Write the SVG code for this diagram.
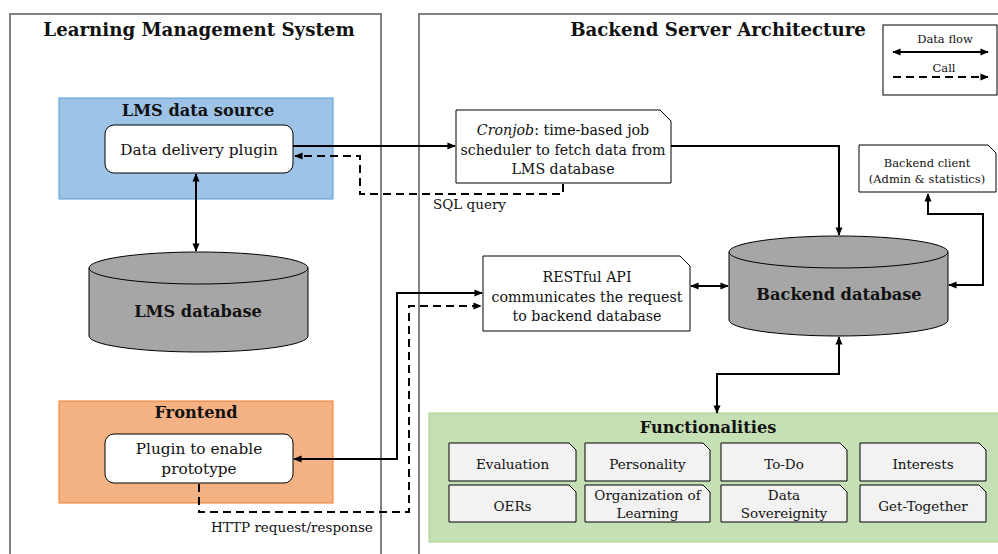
<svg xmlns="http://www.w3.org/2000/svg" width="998" height="554" viewBox="0 0 998 554">
  <style>
    text { font-family: "DejaVu Serif", "Liberation Serif", serif; fill: #111; }
    .title { font-size: 18.2px; font-weight: bold; text-anchor: middle; }
    .head { font-size: 16.2px; font-weight: bold; text-anchor: middle; }
    .plug { font-size: 15.3px; text-anchor: middle; }
    .note { font-size: 14.2px; text-anchor: middle; }
    .fn { font-size: 13.5px; text-anchor: middle; }
    .small { font-size: 11.5px; text-anchor: middle; }
    .lbl { font-size: 13.5px; }
    .panel { fill: #fff; stroke: #808080; stroke-width: 2; }
    .card { fill: #fff; stroke: #000; stroke-width: 1; }
    .fbox { fill: #f2f2f2; stroke: #000; stroke-width: 1; }
    .db { fill: #a6a6a6; stroke: #000; stroke-width: 1; }
    .flow { fill: none; stroke: #000; stroke-width: 2; }
    .call { fill: none; stroke: #000; stroke-width: 2; stroke-dasharray: 8 5; }
  </style>
  <defs>
    <marker id="head" viewBox="0 0 10 10" refX="9" refY="5" markerWidth="4.2" markerHeight="4.2" orient="auto-start-reverse" markerUnits="strokeWidth">
      <path d="M0,0.8 L10,5 L0,9.2 z" fill="#000"/>
    </marker>
  </defs>

  <!-- system panels -->
  <g id="lms-panel">
    <rect class="panel" x="10" y="14" width="371" height="570"/>
    <text class="title" x="199" y="36">Learning Management System</text>
  </g>
  <g id="backend-panel">
    <rect class="panel" x="419" y="14" width="600" height="570"/>
    <text class="title" x="718" y="36">Backend Server Architecture</text>
  </g>

  <!-- legend -->
  <g id="legend">
    <rect x="883" y="25" width="114" height="70" fill="#fff" stroke="#000" stroke-width="1"/>
    <text class="small" x="945" y="43">Data flow</text>
    <line class="flow" x1="893" y1="52" x2="988" y2="52" marker-start="url(#head)" marker-end="url(#head)"/>
    <text class="small" x="944" y="72">Call</text>
    <line class="call" x1="893" y1="77" x2="988" y2="77" marker-end="url(#head)"/>
  </g>

  <g id="lms-data-source">
    <rect x="59" y="98" width="274" height="101" fill="#9dc3e6" stroke="#5b9bd5" stroke-width="1"/>
    <text class="head" x="198" y="116">LMS data source</text>
  </g>
  <g id="data-delivery-plugin">
    <rect class="card" x="105" y="125" width="188" height="48" rx="9"/>
    <text class="plug" x="199" y="155">Data delivery plugin</text>
  </g>

  <g id="lms-database">
    <path class="db" d="M89,268 A109.5,16 0 0 1 308,268 L308,336 A109.5,16 0 0 1 89,336 Z"/>
    <path fill="none" stroke="#000" stroke-width="1" d="M89,268 A109.5,16 0 0 0 308,268"/>
    <text class="head" x="198" y="317">LMS database</text>
  </g>

  <g id="frontend">
    <rect x="59" y="401" width="274" height="102" fill="#f4b183" stroke="#ed7d31" stroke-width="1"/>
    <text class="head" x="196" y="418">Frontend</text>
  </g>
  <g id="frontend-plugin">
    <rect class="card" x="105" y="434" width="188" height="49" rx="9"/>
    <text class="plug" x="199" y="454">Plugin to enable</text>
    <text class="plug" x="199" y="474">prototype</text>
  </g>

  <g id="cronjob">
    <path class="card" d="M456,110 H660 L671,121 V183 H456 Z"/>
    <text class="note" x="563" y="135"><tspan font-style="italic">Cronjob</tspan>: time-based job</text>
    <text class="note" x="563" y="155">scheduler to fetch data from</text>
    <text class="note" x="563" y="174">LMS database</text>
  </g>

  <g id="backend-client">
    <path class="card" d="M859,145 H988 L996,153 V192 H859 Z"/>
    <text class="small" x="927" y="167">Backend client</text>
    <text class="small" x="927" y="183">(Admin &amp; statistics)</text>
  </g>

  <g id="restful-api">
    <path class="card" d="M483,256 H680 L690,266 V331 H483 Z"/>
    <text class="note" x="587" y="282">RESTful API</text>
    <text class="note" x="587" y="302">communicates the request</text>
    <text class="note" x="587" y="321">to backend database</text>
  </g>

  <g id="backend-database">
    <path class="db" d="M729,252 A109.5,16 0 0 1 948,252 L948,320 A109.5,16 0 0 1 729,320 Z"/>
    <path fill="none" stroke="#000" stroke-width="1" d="M729,252 A109.5,16 0 0 0 948,252"/>
    <text class="head" x="839" y="300">Backend database</text>
  </g>

  <g id="functionalities">
    <rect x="429" y="413" width="580" height="129" fill="#c5e0b4" stroke="#a9d18e" stroke-width="1"/>
    <text class="head" x="708" y="433">Functionalities</text>
  </g>
  <g id="fn-evaluation">
    <path class="fbox" d="M449,443 H569 L576,450 V481 H449 Z"/>
    <text class="fn" x="512.5" y="469">Evaluation</text>
  </g>
  <g id="fn-personality">
    <path class="fbox" d="M585,443 H703 L710,450 V481 H585 Z"/>
    <text class="fn" x="647.5" y="469">Personality</text>
  </g>
  <g id="fn-todo">
    <path class="fbox" d="M721,443 H840 L847,450 V481 H721 Z"/>
    <text class="fn" x="784" y="469">To-Do</text>
  </g>
  <g id="fn-interests">
    <path class="fbox" d="M860,443 H979 L986,450 V481 H860 Z"/>
    <text class="fn" x="923" y="469">Interests</text>
  </g>
  <g id="fn-oers">
    <path class="fbox" d="M449,485 H569 L576,492 V522 H449 Z"/>
    <text class="fn" x="512.5" y="511">OERs</text>
  </g>
  <g id="fn-organization">
    <path class="fbox" d="M585,485 H703 L710,492 V522 H585 Z"/>
    <text class="fn" x="647.5" y="500">Organization of</text>
    <text class="fn" x="647.5" y="518">Learning</text>
  </g>
  <g id="fn-sovereignty">
    <path class="fbox" d="M721,485 H840 L847,492 V522 H721 Z"/>
    <text class="fn" x="784" y="500">Data</text>
    <text class="fn" x="784" y="518">Sovereignity</text>
  </g>
  <g id="fn-get-together">
    <path class="fbox" d="M860,485 H979 L986,492 V522 H860 Z"/>
    <text class="fn" x="923" y="511">Get-Together</text>
  </g>

  <!-- connectors: solid = data flow, dashed = call -->
  <g id="connectors">
    <line class="flow" x1="196" y1="174" x2="196" y2="251" marker-start="url(#head)" marker-end="url(#head)"/>
    <line class="flow" x1="293" y1="146" x2="455" y2="146" marker-end="url(#head)"/>
    <path class="call" d="M563,184 V194 H360 V156 H295" marker-end="url(#head)"/>
    <path class="flow" d="M671,146 H839 V235" marker-end="url(#head)"/>
    <path class="flow" d="M928,194 V214 H983 V285 H949" marker-start="url(#head)" marker-end="url(#head)"/>
    <line class="flow" x1="691" y1="286" x2="728" y2="286" marker-start="url(#head)" marker-end="url(#head)"/>
    <path class="flow" d="M839,337 V374 H717 V413" marker-start="url(#head)" marker-end="url(#head)"/>
    <path class="flow" d="M294,459 H397 V293 H482" marker-start="url(#head)" marker-end="url(#head)"/>
    <path class="call" d="M199,484 V512 H409 V306 H481" marker-end="url(#head)"/>
    <text class="lbl" x="433" y="209">SQL query</text>
    <text class="lbl" x="211" y="532">HTTP request/response</text>
  </g>
</svg>
